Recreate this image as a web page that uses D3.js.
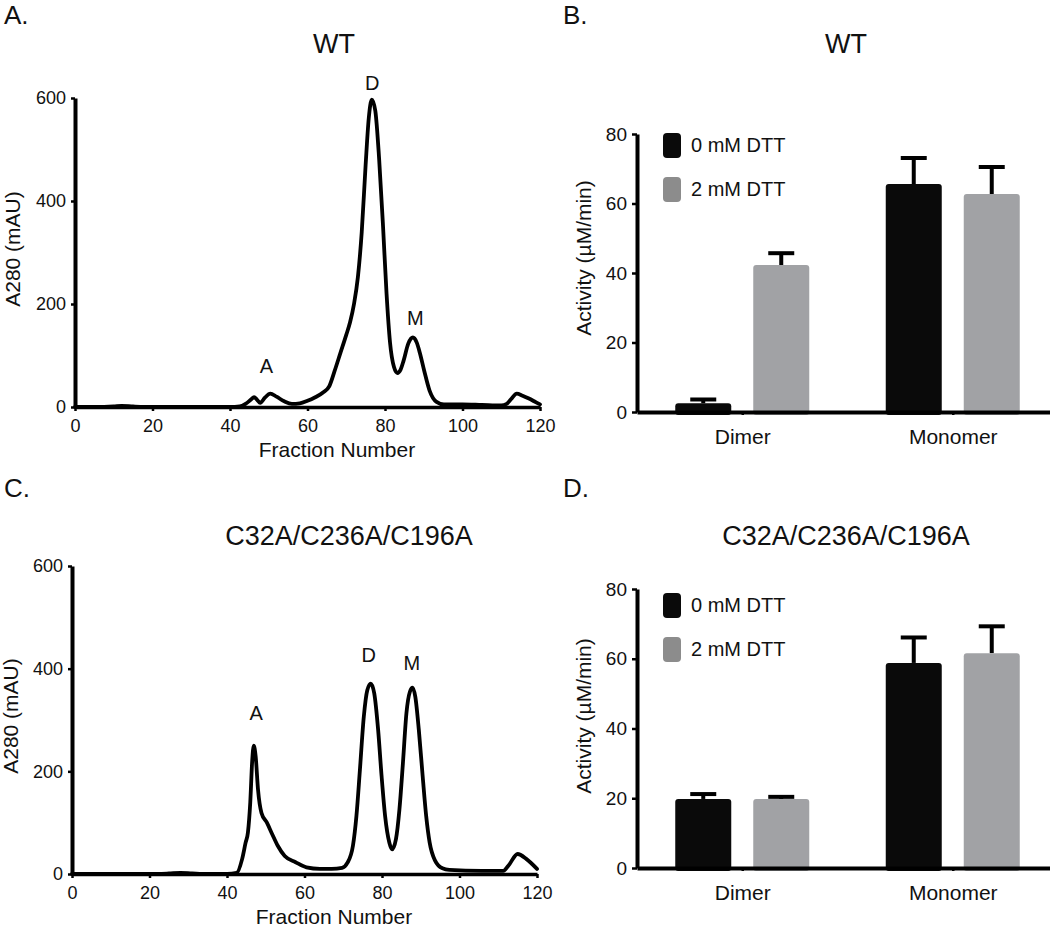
<!DOCTYPE html>
<html><head><meta charset="utf-8">
<script src="https://cdn.jsdelivr.net/npm/d3@7"></script>
<style>
body{margin:0;background:#fff;}
text{font-family:"Liberation Sans",Arial,Helvetica,sans-serif;fill:#111;}
</style></head>
<body>
<svg id="c" width="1050" height="928"></svg>
<script>
// ---------- DATA ----------
const fracA = [0,5,10,12,15,20,30,40,42.5,44,45.5,46.2,47,47.8,49,50.4,52,54,56,58,60,62,64,65.6,67,68.5,70,71,72,73,74,75,75.8,76.6,77.5,78.5,79.5,80.4,81.3,82.3,83.2,84,84.8,86,87.2,88.2,89,90.1,91.5,93.3,95.2,100,105,110,111.4,112.5,114,115.5,117,119,120];
const a280A = [0,0,1,2,1,0,0,0,1,6,15,19,14,8,18,26,20,11,6,7,12,19,28,40,70,105,140,165,200,252,340,470,560,597,575,480,350,220,125,78,66,72,90,123,135,125,105,71,32,10,5,5,4,3,6,15,26,22,17,9,5];
const fracC = [0,10,20,25,28,31,35,40,42.5,43.9,44.8,45.4,46,46.5,46.9,47.4,48,48.9,50.3,51.7,53.1,54.9,57.7,60.5,64,67,69.7,71.1,72.5,73.4,74.3,75.3,76.2,77.1,78,79,79.9,80.8,81.9,82.6,83.6,84.5,85.4,86.3,87.2,87.9,88.6,89.5,90.5,91.4,92.3,93.7,95.6,97.4,105.7,111.3,112.6,115,117.3,120];
const a280C = [0,0,0,1,2,1,0,0,2,29,61,81,139,220,250,229,165,119,100,77,55,35,23,13,10,10,12,22,55,113,203,306,358,371,352,281,190,113,61,48,68,126,216,313,355,363,345,281,190,113,61,26,11,8,6,6,16,39,29,10];

const peakLabelsA = [{t:"A",x:49.4,y:66},{t:"D",x:76.7,y:615},{t:"M",x:87.8,y:160}];
const peakLabelsC = [{t:"A",x:47.5,y:300},{t:"D",x:76.6,y:413},{t:"M",x:87.7,y:397}];

const fractionTicks = [0,20,40,60,80,100,120];
const a280Ticks = [0,200,400,600];
const activityTicks = [0,20,40,60,80];

const categories = ["Dimer","Monomer"];
const seriesNames = ["0 mM DTT","2 mM DTT"];
const wt0mM = [2.5, 65.6];
const wt0mMErr = [1.1, 7.5];
const wt2mM = [42.3, 62.7];
const wt2mMErr = [3.4, 7.8];
const mut0mM = [19.8, 58.8];
const mut0mMErr = [1.4, 7.3];
const mut2mM = [19.8, 61.6];
const mut2mMErr = [0.6, 7.7];

// ---------- DRAW ----------
const svg = d3.select("#c");
const FONT = '"Liberation Sans",Arial,Helvetica,sans-serif';

function styleAxis(g, domainW, tickW){
  g.select(".domain").attr("stroke","#000").attr("stroke-width",domainW);
  g.selectAll(".tick line").attr("stroke","#000").attr("stroke-width",tickW);
  g.selectAll(".tick text").attr("fill","#111").style("font-family",FONT);
}

function chromatogram(cfg){
  const x = d3.scaleLinear().domain([0,120]).range([cfg.x0,cfg.x1]);
  const y = d3.scaleLinear().domain([0,600]).range([cfg.yb,cfg.yt]);
  const gx = svg.append("g").attr("transform",`translate(0,${cfg.yb})`)
    .call(d3.axisBottom(x).tickValues(fractionTicks).tickSize(4).tickSizeOuter(0).tickPadding(8));
  gx.selectAll(".tick text").style("font-size","18px");
  styleAxis(gx,3.5,2.5);
  const gy = svg.append("g").attr("transform",`translate(${cfg.x0},0)`)
    .call(d3.axisLeft(y).tickValues(a280Ticks).tickSize(4).tickSizeOuter(0).tickPadding(5));
  gy.selectAll(".tick text").style("font-size","18px");
  styleAxis(gy,4,2.5);
  const line = d3.line().x((d,i)=>x(cfg.fx[i])).y(d=>y(d)).curve(d3.curveMonotoneX);
  svg.append("path").datum(cfg.fy).attr("d",line).attr("fill","none")
    .attr("stroke","#000").attr("stroke-width",3.8).attr("stroke-linejoin","round").attr("stroke-linecap","round");
  svg.selectAll(null).data(cfg.labels).enter().append("text")
    .attr("x",d=>x(d.x)).attr("y",d=>y(d.y)).attr("text-anchor","middle")
    .style("font-size","20px").text(d=>d.t);
  svg.append("text").attr("x",cfg.title[1]).attr("y",cfg.title[2]).attr("text-anchor","middle")
    .style("font-size","27px").text(cfg.title[0]);
  svg.append("text").attr("x",cfg.x0+262).attr("y",cfg.yb+50).attr("text-anchor","middle")
    .style("font-size","21px").text("Fraction Number");
  svg.append("text").attr("transform",`translate(${cfg.ylx},${cfg.ylc}) rotate(-90)`)
    .attr("text-anchor","middle").attr("dy","0.35em").style("font-size","21px").text("A280 (mAU)");
  svg.append("text").attr("x",cfg.letter[1]).attr("y",cfg.letter[2]).style("font-size","26px").text(cfg.letter[0]);
}

function barPanel(cfg){
  const x = d3.scalePoint().domain(categories).range([637,1058]).padding(0.5);
  const sub = d3.scaleBand().domain(seriesNames).range([-67,67]).paddingInner(22/78);
  const y = d3.scaleLinear().domain([0,80]).range([cfg.yb,cfg.yt]);
  const colors = {"0 mM DTT":"#0a0a0a","2 mM DTT":"#a1a2a5"};
  const legendColors = {"0 mM DTT":"#0a0a0a","2 mM DTT":"#8c8c8c"};
  const rows = [];
  categories.forEach((c,i)=>{
    rows.push({c,s:seriesNames[0],v:cfg.v0[i],e:cfg.e0[i]});
    rows.push({c,s:seriesNames[1],v:cfg.v2[i],e:cfg.e2[i]});
  });
  const bw = sub.bandwidth();
  const eg = svg.append("g");
  rows.forEach(r=>{
    const cx = x(r.c)+sub(r.s)+bw/2;
    eg.append("line").attr("x1",cx).attr("x2",cx).attr("y1",y(r.v)).attr("y2",y(r.v+r.e))
      .attr("stroke","#000").attr("stroke-width",4);
    eg.append("line").attr("x1",cx-13).attr("x2",cx+13).attr("y1",y(r.v+r.e)).attr("y2",y(r.v+r.e))
      .attr("stroke","#000").attr("stroke-width",4);
  });
  svg.append("g").selectAll("rect").data(rows).enter().append("rect")
    .attr("x",d=>x(d.c)+sub(d.s)).attr("width",bw)
    .attr("y",d=>y(d.v)).attr("height",d=>y(0)-y(d.v)+3)
    .attr("rx",3).attr("fill",d=>colors[d.s]);
  const gx = svg.append("g").attr("transform",`translate(0,${cfg.yb})`)
    .call(d3.axisBottom(x).tickSize(3).tickSizeOuter(0).tickPadding(14));
  gx.selectAll(".tick text").style("font-size","21px");
  styleAxis(gx,4,2.5);
  const gy = svg.append("g").attr("transform",`translate(637,0)`)
    .call(d3.axisLeft(y).tickValues(activityTicks).tickSize(5).tickSizeOuter(0).tickPadding(5));
  gy.selectAll(".tick text").style("font-size","19px");
  styleAxis(gy,4,2.5);
  seriesNames.forEach((s,i)=>{
    const ly = cfg.legY + i*44;
    svg.append("rect").attr("x",663).attr("y",ly).attr("width",18).attr("height",25).attr("rx",4)
      .attr("fill",legendColors[s]);
    svg.append("text").attr("x",691).attr("y",ly+19).style("font-size","20px").text(s);
  });
  svg.append("text").attr("x",846).attr("y",cfg.title[1]).attr("text-anchor","middle")
    .style("font-size","27px").text(cfg.title[0]);
  svg.append("text").attr("transform",`translate(584,${cfg.ylc}) rotate(-90)`)
    .attr("text-anchor","middle").attr("dy","0.35em").style("font-size","21px").text("Activity (µM/min)");
  svg.append("text").attr("x",563).attr("y",cfg.letter[1]).style("font-size","26px").text(cfg.letter[0]);
}

chromatogram({x0:75,x1:540,yt:98,yb:407,fx:fracA,fy:a280A,labels:peakLabelsA,
  title:["WT",334,53],ylx:13,ylc:249,letter:["A.",4,24]});
chromatogram({x0:72,x1:537,yt:566,yb:874,fx:fracC,fy:a280C,labels:peakLabelsC,
  title:["C32A/C236A/C196A",349,545],ylx:11,ylc:716,letter:["C.",4,497]});
barPanel({yt:134,yb:412,v0:wt0mM,e0:wt0mMErr,v2:wt2mM,e2:wt2mMErr,legY:133,title:["WT",53],letter:["B.",24],ylc:258});
barPanel({yt:589,yb:868,v0:mut0mM,e0:mut0mMErr,v2:mut2mM,e2:mut2mMErr,legY:593,title:["C32A/C236A/C196A",545],letter:["D.",497],ylc:716});
</script>
</body></html>
